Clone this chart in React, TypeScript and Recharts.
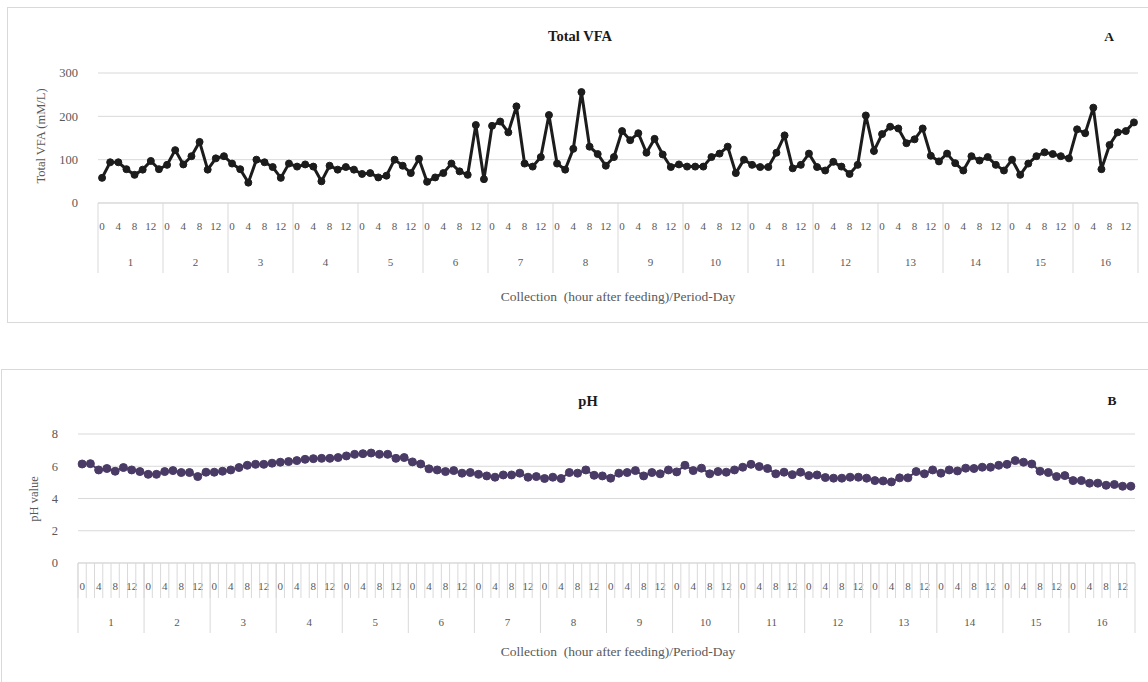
import React from 'react';
import { LineChart, Line, XAxis, YAxis, CartesianGrid } from 'recharts';

const DAYS = [1, 2, 3, 4, 5, 6, 7, 8, 9, 10, 11, 12, 13, 14, 15, 16];
const HOURS = [0, 2, 4, 6, 8, 10, 12, 14];
const HOUR_LABELS = ['0', '', '4', '', '8', '', '12', ''];

// total VFA (mM/L), one row per period-day, one value per collection hour
const VFA_BY_DAY = [
  [58, 94, 94, 78, 65, 77, 97, 78],
  [88, 122, 89, 108, 141, 77, 103, 108],
  [91, 78, 47, 100, 94, 83, 58, 91],
  [84, 89, 84, 50, 86, 77, 83, 77],
  [67, 69, 59, 63, 100, 86, 69, 102],
  [49, 59, 69, 91, 73, 65, 180, 55],
  [178, 188, 163, 223, 91, 84, 106, 203],
  [91, 77, 125, 256, 130, 113, 86, 106],
  [166, 145, 161, 116, 148, 112, 83, 89],
  [84, 84, 84, 106, 114, 130, 69, 100],
  [88, 83, 83, 116, 156, 80, 88, 114],
  [83, 75, 95, 84, 67, 88, 202, 120],
  [159, 176, 172, 138, 147, 172, 109, 96],
  [114, 92, 75, 108, 98, 106, 88, 75],
  [100, 65, 91, 108, 117, 113, 108, 103],
  [170, 161, 220, 78, 134, 163, 166, 186],
];

const PH_BY_DAY = [
  [6.14, 6.16, 5.77, 5.86, 5.69, 5.92, 5.77, 5.67],
  [5.5, 5.5, 5.67, 5.73, 5.61, 5.61, 5.36, 5.63],
  [5.63, 5.69, 5.77, 5.92, 6.06, 6.12, 6.12, 6.19],
  [6.25, 6.29, 6.35, 6.43, 6.47, 6.49, 6.49, 6.54],
  [6.64, 6.74, 6.78, 6.82, 6.74, 6.74, 6.49, 6.54],
  [6.27, 6.14, 5.84, 5.77, 5.67, 5.73, 5.57, 5.61],
  [5.5, 5.4, 5.32, 5.46, 5.46, 5.57, 5.32, 5.36],
  [5.24, 5.32, 5.24, 5.61, 5.57, 5.77, 5.44, 5.4],
  [5.26, 5.57, 5.61, 5.73, 5.4, 5.61, 5.53, 5.77],
  [5.65, 6.06, 5.73, 5.88, 5.53, 5.67, 5.63, 5.77],
  [5.94, 6.12, 5.98, 5.86, 5.53, 5.63, 5.48, 5.63],
  [5.42, 5.46, 5.3, 5.26, 5.26, 5.32, 5.32, 5.26],
  [5.11, 5.09, 5.03, 5.28, 5.28, 5.67, 5.53, 5.77],
  [5.57, 5.77, 5.71, 5.88, 5.86, 5.94, 5.94, 6.06],
  [6.12, 6.35, 6.25, 6.14, 5.69, 5.61, 5.36, 5.42],
  [5.11, 5.11, 4.95, 4.95, 4.82, 4.87, 4.76, 4.76],
];

const VFA_TICKS = [0, 100, 200, 300];
const PH_TICKS = [0, 2, 4, 6, 8];

const rows = DAYS.flatMap((day, di) =>
  HOURS.map((hour, hi) => ({
    key: `${day}-${hour}`,
    day,
    hi,
    label: HOUR_LABELS[hi],
    vfa: VFA_BY_DAY[di][hi],
    ph: PH_BY_DAY[di][hi],
  }))
);

const GRID = '#d9d9d9';
const TEXT = '#595959';
const FONT = '"Liberation Serif", "Times New Roman", serif';

// two-row category axis like Excel: hours on top, period-day below
function DayHourTick(props: any) {
  const { x, y, step, hourTicks } = props;
  const index = props.index ?? props.payload?.index ?? 0;
  const row = rows[index];
  if (!row) return null;
  const left = x - step / 2;
  return (
    <g>
      {hourTicks && <line x1={left} x2={left} y1={y} y2={y + 35} stroke={GRID} />}
      {row.hi === 0 && <line x1={left} x2={left} y1={y} y2={y + 70} stroke={GRID} />}
      {index === rows.length - 1 && (
        <line x1={x + step / 2} x2={x + step / 2} y1={y} y2={y + 70} stroke={GRID} />
      )}
      {row.label && (
        <text x={x} y={y + 23.5} dy="0.35em" textAnchor="middle" fontSize={11} fill={TEXT} fontFamily={FONT}>
          {row.label}
        </text>
      )}
      {row.hi === 4 && (
        <text x={left} y={y + 59.5} dy="0.35em" textAnchor="middle" fontSize={11} fill={TEXT} fontFamily={FONT}>
          {row.day}
        </text>
      )}
    </g>
  );
}

function Txt({ x, y, children, size = 12, bold = false, rotate = false }: any) {
  return (
    <div
      style={{
        position: 'absolute',
        left: x,
        top: y,
        transform: `translate(-50%, -50%)${rotate ? ' rotate(-90deg)' : ''}`,
        whiteSpace: 'nowrap',
        fontSize: size,
        fontWeight: bold ? 'bold' : 'normal',
        color: bold ? '#1a1a1a' : TEXT,
        fontFamily: FONT,
        lineHeight: 1,
      }}
    >
      {children}
    </div>
  );
}

const TOP_STEP = 1040 / rows.length;
const BOT_STEP = 1057 / rows.length;

export default function App() {
  return (
    <div style={{ position: 'absolute', left: 0, top: 0, width: 1148, height: 682, overflow: 'hidden', background: '#fff' }}>
      <div style={{ position: 'absolute', left: 7, top: 7, width: 1150, height: 314, border: `1px solid ${GRID}` }} />
      <div style={{ position: 'absolute', left: 1, top: 369, width: 1160, height: 330, border: `1px solid ${GRID}` }} />

      <div style={{ position: 'absolute', left: 0, top: 0 }}>
        <LineChart width={1148} height={275} data={rows} margin={{ top: 73, right: 10, left: 0, bottom: 0 }}>
          <CartesianGrid vertical={false} stroke={GRID} />
          <XAxis
            dataKey="key"
            interval={0}
            height={72}
            tickLine={false}
            tickSize={0}
            tickMargin={0}
            axisLine={{ stroke: GRID }}
            padding={{ left: TOP_STEP / 2, right: TOP_STEP / 2 }}
            tick={(p: any) => <DayHourTick {...p} step={TOP_STEP} hourTicks={false} />}
          />
          <YAxis
            width={98}
            domain={[0, 300]}
            ticks={VFA_TICKS}
            axisLine={false}
            tickLine={false}
            tickSize={0}
            tickMargin={20}
            tick={{ fill: TEXT, fontSize: 12.5, fontFamily: FONT }}
          />
          <Line
            dataKey="vfa"
            stroke="#1c1c1c"
            strokeWidth={3}
            dot={{ r: 3.5, fill: '#1c1c1c', stroke: '#1c1c1c', strokeWidth: 1 }}
            isAnimationActive={false}
          />
        </LineChart>
      </div>

      <div style={{ position: 'absolute', left: 0, top: 360 }}>
        <LineChart width={1148} height={275} data={rows} margin={{ top: 74, right: 13, left: 0, bottom: 0 }}>
          <CartesianGrid vertical={false} stroke={GRID} />
          <XAxis
            dataKey="key"
            interval={0}
            height={72}
            tickLine={false}
            tickSize={0}
            tickMargin={0}
            axisLine={{ stroke: GRID }}
            padding={{ left: BOT_STEP / 2, right: BOT_STEP / 2 }}
            tick={(p: any) => <DayHourTick {...p} step={BOT_STEP} hourTicks />}
          />
          <YAxis
            width={78}
            domain={[0, 8]}
            ticks={PH_TICKS}
            axisLine={false}
            tickLine={false}
            tickSize={0}
            tickMargin={20}
            tick={{ fill: TEXT, fontSize: 12.5, fontFamily: FONT }}
          />
          <Line
            dataKey="ph"
            stroke="#4a3b66"
            strokeWidth={2}
            dot={{ r: 4, fill: '#4a3b66', stroke: '#4a3b66', strokeWidth: 1 }}
            isAnimationActive={false}
          />
        </LineChart>
      </div>

      <Txt x={580} y={36} size={14.5} bold>Total VFA</Txt>
      <Txt x={1109} y={37} size={13.5} bold>A</Txt>
      <Txt x={41} y={136} size={12.5} rotate>Total VFA (mM/L)</Txt>
      <Txt x={618} y={297} size={13.5}>Collection&nbsp; (hour after feeding)/Period-Day</Txt>

      <Txt x={588} y={401} size={14.5} bold>pH</Txt>
      <Txt x={1112} y={401} size={13.5} bold>B</Txt>
      <Txt x={34} y={499} size={12.5} rotate>pH value</Txt>
      <Txt x={618} y={652} size={13.5}>Collection&nbsp; (hour after feeding)/Period-Day</Txt>
    </div>
  );
}
